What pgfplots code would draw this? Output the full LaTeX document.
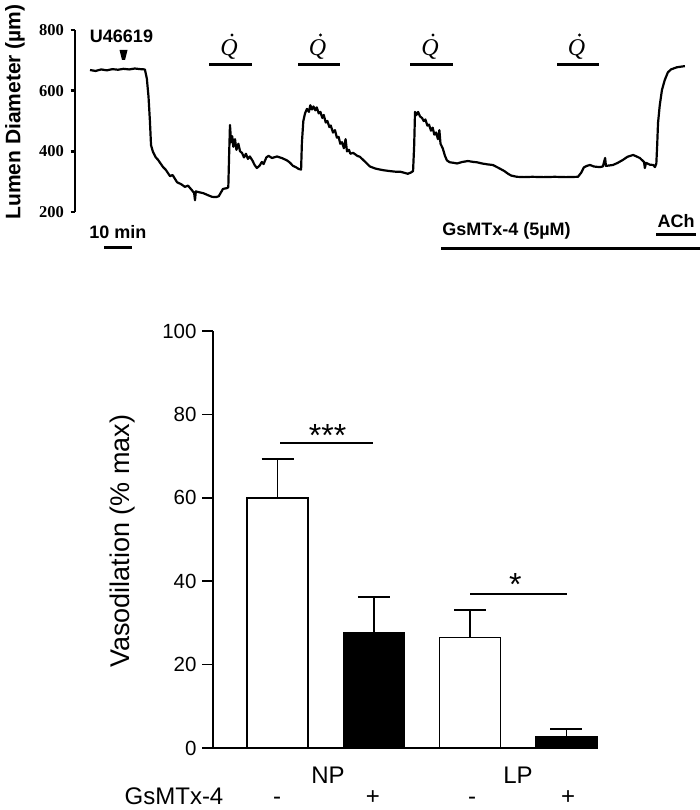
\documentclass[border=0pt]{standalone}
\usepackage{fontspec}
\setmainfont{Liberation Sans}
\newfontfamily\tnr{Liberation Serif}
\usepackage{pgfplots}
\pgfplotsset{compat=1.18}
\usepackage{pgfplotstable}

\pgfplotstableread{
t v
0 668
2 665
4 670
6 667
8 671
10 669
12 672
14 670
16 673
18 671
19.6 670
20.3 640
20.9 580
21.4 500
21.8 420
22.5 398
23.5 380
24.3 372
25.2 360
26.1 348
27 340
28.6 318
29.5 322
31.1 298
32.5 292
33.9 283
35 287
36.4 272
37.2 262
37.5 239
37.8 268
39 265
40.5 262
42 256
43.6 250
45 249
46 252
46.8 265
47.5 276
49 279
49.4 282
49.7 390
50.0 487
50.4 430
50.8 450
51.2 415
51.8 440
52.3 405
53 425
53.6 400
54.3 395
55 380
55.7 392
56.4 375
57.1 383
58 370
58.8 355
59.6 345
60.5 352
61.4 365
62 358
63 380
63.8 385
65 378
66.8 383
68.5 378
70.4 370
71.5 362
72.5 352
73.5 348
74.5 342
75.4 340
75.7 430
76.2 500
76.8 525
77.5 540
78.2 530
78.7 552
79.3 538
79.8 548
80.5 535
81 545
81.7 525
82.3 530
83 510
83.5 520
84.2 495
84.8 500
85.5 480
86 485
86.8 462
87.5 470
88.2 445
88.8 448
89.4 425
90 430
90.7 410
91.3 440
91.8 400
92.5 405
93 392
94 395
95.5 385
96.4 382
98 368
100 350
102 343
104.6 338
107 335
109 333
110.7 333
112 330
113.5 326
114.6 330
115.4 335
115.8 420
116.1 530
116.6 520
117.2 530
117.9 515
118.6 510
119.2 500
119.8 505
120.5 485
121.1 488
121.8 468
122.4 478
123 455
123.6 462
124.3 440
124.8 470
125.2 425
126 410
126.8 385
127.5 370
128.5 364
130 362
131.1 360
133 365
135 368
137 365
138.2 364
140 360
142 357
143.9 355
146 345
148 335
149.5 325
150.5 320
152.5 316
155 315
158 316
162 315
166 316
170 315
174.3 316
175.5 330
176.4 347
177.5 352
178.6 355
180 350
182 348
183.2 350
184 378
184.3 352
186.8 355
188.5 362
190.4 372
192 382
194 388
195.5 382
196.4 378
197.9 365
198.2 345
198.6 362
200 356
201.2 355
201.8 348
202.3 360
202.6 420
202.9 493
203.5 550
204.3 602
205.3 635
206.4 660
207.5 670
209.6 677
211 679
212.5 681
}\trace

\pgfplotstableread{
x y e
1 60.0 9.3
3 26.5 6.6
}\nobar
\pgfplotstableread{
x y e
2 27.6 8.6
4 2.8 1.8
}\gsbar

\begin{document}
\begin{tikzpicture}[x=1pt,y=1pt]
\path[use as bounding box] (0,0) rectangle (700,-810);

% ---------- top trace ----------
\begin{axis}[
  at={(75pt,-212pt)}, anchor=south west,
  scale only axis, width=625pt, height=182pt,
  xmin=-5.36, xmax=217.9, ymin=200, ymax=800,
  hide x axis, axis y line*=left,
  y axis line style={-, line width=2.4pt},
  ytick={200,400,600,800},
  tick align=outside, major tick length=4.5pt,
  ytick style={line width=2.4pt, black},
  /pgf/number format/assume math mode=true,
  yticklabel style={font=\tnr\bfseries\fontsize{16.5}{18}\selectfont, xshift=-3pt},
  clip=false,
]
\addplot[black, line width=2.2pt, line join=round] table[x=t, y=v] {\trace};
\end{axis}

\node[rotate=90, font=\bfseries\fontsize{21}{22}\selectfont] at (15,-112) {Lumen Diameter (µm)};
\node[anchor=base, font=\bfseries\fontsize{18}{20}\selectfont] at (121.5,-43) {U46619};
\fill (119.5,-50) -- (127.5,-50) -- (125,-60) -- (122,-60) -- cycle;

\foreach \a/\b in {209/252, 298/340, 410/453, 557/599}{
  \draw[line width=3pt] (\a,-65) -- (\b,-65);
  \node[anchor=base, inner sep=0pt, font=\tnr\itshape\fontsize{24}{26}\selectfont] at ({(\a+\b)/2-1.5},-56) {Q};
  \fill ({(\a+\b)/2+1.5},-35) circle (1.7);
}

\node[anchor=base, font=\bfseries\fontsize{18}{20}\selectfont] at (118,-238) {10 min};
\draw[line width=3pt] (104,-247) -- (132,-247);
\node[anchor=base, font=\bfseries\fontsize{18}{20}\selectfont] at (506.5,-236) {GsMTx-4 (5µM)};
\draw[line width=3pt] (441,-248) -- (700,-248);
\node[anchor=base, font=\bfseries\fontsize{18}{20}\selectfont] at (676,-227) {ACh};
\draw[line width=3pt] (656,-234) -- (696,-234);

% ---------- bottom bar chart ----------
\begin{axis}[
  at={(213pt,-748pt)}, anchor=south west,
  scale only axis, width=385pt, height=417pt,
  xmin=0.33, xmax=4.328, ymin=0, ymax=100,
  axis x line*=bottom, axis y line*=left,
  axis line style={-, line width=1.5pt},
  xtick=\empty, ytick={0,20,40,60,80,100},
  tick align=outside, major tick length=11pt,
  ytick style={line width=1.5pt, black},
  /pgf/number format/assume math mode=true,
  yticklabel style={font=\fontsize{20.5}{22}\selectfont, xshift=-2pt},
  clip=false,
]
\addplot[ybar, bar shift=0pt, bar width=0.633, fill=white, draw=black, line width=1.5pt,
  error bars/.cd, y dir=plus, y explicit,
  error bar style={line width=1.5pt, black},
  error mark options={rotate=90, mark size=16pt, line width=1.5pt, black}]
  table[x=x, y=y, y error=e] {\nobar};
\addplot[ybar, bar shift=0pt, bar width=0.633, fill=black, draw=black, line width=1.5pt,
  error bars/.cd, y dir=plus, y explicit,
  error bar style={line width=1.5pt, black},
  error mark options={rotate=90, mark size=16pt, line width=1.5pt, black}]
  table[x=x, y=y, y error=e] {\gsbar};
\draw[line width=1.5pt] (axis cs:1.03,73.1) -- (axis cs:1.99,73.1);
\node[anchor=base, font=\fontsize{32}{34}\selectfont] at (axis cs:1.52,72.4) {***};
\draw[line width=1.5pt] (axis cs:3.0,36.9) -- (axis cs:4.01,36.9);
\node[anchor=base, font=\fontsize{32}{34}\selectfont] at (axis cs:3.47,36.6) {*};
\end{axis}

\node[rotate=90, font=\fontsize{27}{29}\selectfont] at (123,-541) {Vasodilation (\% max)};
\node[anchor=base, font=\fontsize{24}{26}\selectfont] at (328,-783) {NP};
\node[anchor=base, font=\fontsize{24}{26}\selectfont] at (518,-783) {LP};
\node[anchor=base, inner sep=0pt, font=\fontsize{24}{26}\selectfont] at (174,-804) {GsMTx-4};
\foreach \x/\s in {277/-, 373/+, 472/-, 568/+}{
  \node[anchor=base, inner sep=0pt, font=\fontsize{24}{26}\selectfont] at (\x,-804) {\s};
}
\end{tikzpicture}
\end{document}
